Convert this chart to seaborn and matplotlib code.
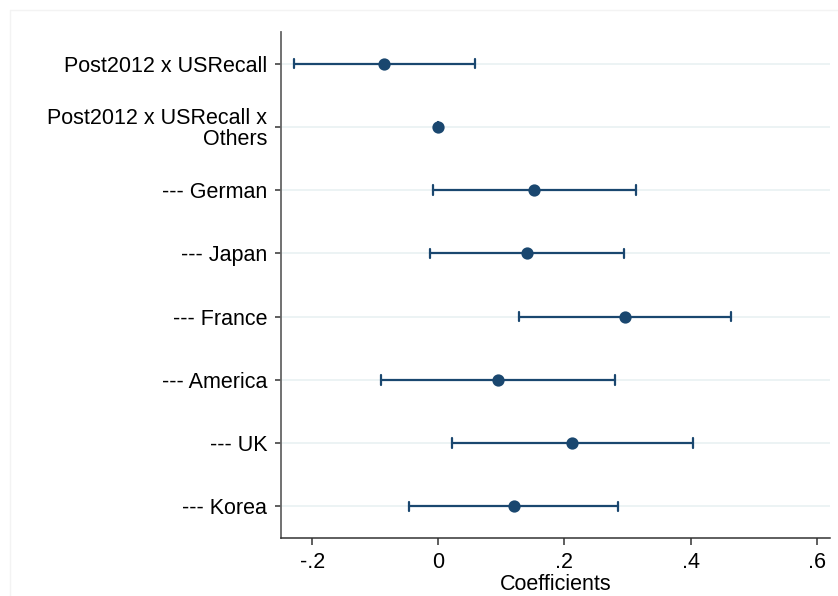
import matplotlib
matplotlib.use('Agg')
import matplotlib.pyplot as plt
from matplotlib.lines import Line2D
import seaborn as sns
import pandas as pd
import numpy as np

labels = ["Post2012 x USRecall", "Post2012 x USRecall x\nOthers", "--- German", "--- Japan",
          "--- France", "--- America", "--- UK", "--- Korea"]
coef = [-0.086, 0.0, 0.152, 0.141, 0.296, 0.095, 0.212, 0.120]
ci_low = [-0.229, 0.0, -0.008, -0.013, 0.128, -0.091, 0.022, -0.046]
ci_high = [0.058, 0.0, 0.313, 0.295, 0.464, 0.280, 0.403, 0.285]
xticks = [-0.2, 0, 0.2, 0.4, 0.6]
xticklabels = ["-.2", "0", ".2", ".4", ".6"]

sns.set_style("white")
plt.rcParams['font.family'] = ['Liberation Sans', 'DejaVu Sans']
plt.rcParams['text.color'] = 'black'
plt.rcParams['xtick.labelcolor'] = 'black'
plt.rcParams['ytick.labelcolor'] = 'black'
plt.rcParams['axes.labelcolor'] = 'black'

rows = []
for lab, lo, c, hi in zip(labels, ci_low, coef, ci_high):
    for v in (lo, c, hi):
        rows.append({"term": lab, "value": v})
df = pd.DataFrame(rows)

fig = plt.figure(figsize=(8.38, 5.96), dpi=100)
ax = fig.add_axes([281/838, 1-538/596, (830-281)/838, (538-32)/596])

navy = '#1a476f'
sns.pointplot(data=df, x='value', y='term', order=labels, orient='h',
              estimator=np.median, errorbar=lambda v: (np.min(v), np.max(v)),
              color=navy, markers='o', linestyle='none', markersize=6.8,
              capsize=0.15, err_kws={'linewidth': 1.6}, ax=ax)

ax.set_xlim(-0.2495, 0.621)
ax.set_ylim(7.5, -0.5)
ax.set_xticks(xticks)
ax.set_xticklabels(xticklabels)
ax.set_xlabel('Coefficients', fontsize=15.5, labelpad=0.5, color='black')
ax.set_ylabel('')
ax.grid(axis='y', color='#eaf2f3', linewidth=1.3)
ax.grid(axis='x', visible=False)
ax.set_axisbelow(True)

for s in ['top', 'right']:
    ax.spines[s].set_visible(False)
ax.spines['left'].set_color('#666666')
ax.spines['left'].set_linewidth(1.3)
ax.spines['bottom'].set_color('#333333')
ax.spines['bottom'].set_linewidth(1.1)

ax.tick_params(axis='y', length=4.5, width=1.1, color='#333333', pad=5.5, labelsize=15.5,
               left=True, labelcolor='black')
ax.tick_params(axis='x', length=5, width=1.1, color='#333333', pad=5, labelsize=15.5,
               bottom=True, labelcolor='black')
for t in ax.get_yticklabels():
    t.set_linespacing(0.95)

# faint outer frame
fig.add_artist(Line2D([10/838, 1], [1-10/596, 1-10/596], transform=fig.transFigure, color='#f3f3f3', linewidth=1))
fig.add_artist(Line2D([10/838, 10/838], [0, 1-10/596], transform=fig.transFigure, color='#f3f3f3', linewidth=1))

fig.savefig('out.png', dpi=100, facecolor='white')
